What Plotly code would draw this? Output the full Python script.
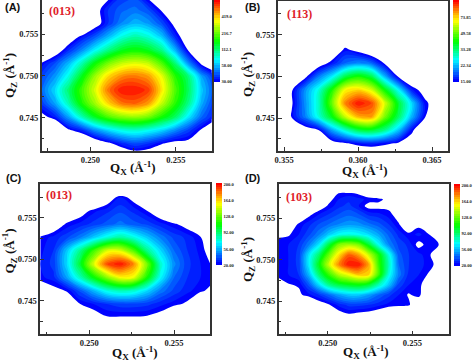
import plotly.graph_objects as go

# Field levels: percent of each colour bar, read row by row from the top of the panel.
# Negative numbers lie outside the drawn (white) region.
Z_A = [
 [-30,-30,-30,-30,-20,-2,6,8,-2,-20,-30,-30,-30,-30],
 [-30,-30,-30,-30,-4,6,11,13,9,-1,-15,-30,-30,-30],
 [-30,-30,-30,-25,-5,6,15,20,17,9,-3,-20,-30,-30],
 [-30,-30,-8,2,10,20,30,35,31,22,5,-8,-25,-30],
 [-25,-7,5,15,27,38,47,50,47,38,20,-1,-15,-30],
 [1,9,20,34,50,62,70,73,70,58,40,16,-2,-8],
 [8,17,30,48,66,80,88,90,86,74,54,40,18,5],
 [12,24,40,56,72,90,100,100,96,78,58,42,22,9],
 [7,18,34,52,66,80,90,92,86,70,54,38,19,6],
 [-3,4,18,34,48,58,64,66,62,52,42,26,12,3],
 [-30,-15,-1,5,16,24,30,32,29,24,16,8,-1,-8],
 [-30,-30,-20,-15,-8,-1.5,5,9,6,1,-3,-3,-10,-25],
 [-30,-30,-30,-30,-30,-20,-12,-7,-8,-15,-25,-30,-30,-30],
]
Z_B = [
 [-30]*14,
 [-30]*14,
 [-30]*14,
 [-30,-30,-30,-30,-30,-10,-12,-30,-30,-30,-30,-30,-30,-30],
 [-30,-30,-30,-25,-10,2,-3,-10,-20,-30,-30,-30,-30,-30],
 [-30,-30,-15,-6,3,12,16,12,-1,-10,-20,-30,-30,-30],
 [-30,-12,-2,14,26,44,52,44,20,-0.5,-10,-25,-30,-30],
 [-12,-1,16,30,52,76,80,72,50,28,4,-4,-20,-30],
 [-12,-1,16,32,60,88,100,94,72,46,24,2,-6,-20],
 [-15,1,14,30,48,70,84,86,62,42,20,0.5,-8,-25],
 [-30,-15,-5,0,18,32,44,46,38,22,2,-10,-25,-30],
 [-30,-30,-20,-10,-5,-1,3,5,2,-1,-5,-20,-30,-30],
 [-30,-30,-30,-25,-25,-20,-15,-15,-15,-20,-25,-30,-30,-30],
]
Z_C = [
 [-30]*14,
 [-30,-30,-30,-30,-20,-6,3,-3,-15,-30,-30,-30,-30,-30],
 [-30,-25,-10,-4,2,5,8,5,0,-6,-15,-25,-30,-30],
 [-15,-6,1,4,7,10,13,10,8,4,1,-3,-10,-25],
 [1,4,8,14,22,30,36,30,22,14,8,5,0.5,-8],
 [2,6,22,38,56,72,72,58,38,24,12,6,2,-4],
 [3,7,24,46,72,94,100,88,62,32,16,7,3,-1],
 [2,5,18,34,50,64,76,74,52,28,12,6,3,1],
 [-6,-2.5,0.5,10,20,30,34,32,24,14,8,4,1,-2],
 [-20,-15,-6,0,3,6,8,8,7,4,1.5,-1,-8,-25],
 [-30,-30,-20,-10,-4,-0.5,-0.5,-0.5,-1,-3,-10,-20,-30,-30],
 [-30]*14,
 [-30]*14,
]
Z_D = [
 [-30]*18,
 [-30,-30,-30,-30,-30,-6,0.3,1.2,-1,-5,-8,-15,-30,-30,-30,-30,-30,-30],
 [-30,-30,-30,-30,-15,-2,3,5,4,2,1.5,-2,-12,-30,-30,-30,-30,-30],
 [-30,-30,-30,-15,-4,1,5,7,3,-2,-2,-1.5,-8,-20,-30,-30,-30,-30],
 [-30,-25,-8,-1.5,3,6,9,11,9,5,4,1.5,-2.5,-12,-30,-30,-30,-30],
 [-20,-5,1,5,9,12,15,17,16,13,10,6,0.5,-5,-2,-15,-30,-30],
 [-1,-0.5,3,8,14,22,28,30,28,24,18,11,5,1,4,0.5,-8,-25],
 [2,3,6,14,25,44,62,66,62,46,28,15,8,5,-2,2,0.5,-8],
 [2,3,7,25,40,60,78,92,85,70,52,30,10,6,4,1,-4,-20],
 [2,3,7,26,48,70,88,100,100,85,55,34,12,6,4,2,-2,-15],
 [2,3,6,20,40,55,68,75,82,80,56,30,14,5,3,-0.5,-10,-25],
 [-4,-0.3,0.5,10,24,38,45,48,50,46,34,22,8,3,2,-5,-20,-30],
 [-25,-15,-1,2,6,12,18,22,22,18,12,7,3,-0.5,1.5,-6,-25,-30],
 [-30,-30,-20,-10,-4,-0.5,4,7,7,6,4,2,1.5,0.8,-5,-20,-30,-30],
 [-30,-30,-30,-30,-20,-10,-3,-0.8,-2,-3,-5,-8,-10,-10,-20,-30,-30,-30],
 [-30]*18,
 [-30]*18,
]
Y_D = [0.75907,0.75798,0.75726,0.75645,0.75544,0.75423,0.75302,0.75181,0.75060,
       0.74940,0.74819,0.74698,0.74577,0.74456,0.74335,0.74214,0.74093]

BAR_TICKS = [0, 20, 40, 60, 80, 100]
BAR_A = ["30.00", "58.00", "112.1", "216.7", "419.0", "818.0"]
BAR_B = ["15.00", "22.34", "33.28", "49.58", "73.85", "110.0"]
BAR_C = ["20.00", "56.00", "92.00", "128.0", "164.0", "200.0"]
BAR_D = ["20.00", "56.00", "92.00", "128.0", "164.0", "200.0"]

W, H = 474, 361
LEVELS = 34
STEP = 100 / LEVELS
SERIF = "Liberation Serif"
DARK = "#333333"

f = 1 / LEVELS
SCALE = [[0, "#ffffff"], [f * 0.5, "#ffffff"], [f * 0.9, "#0000ff"],
         [0.28, "#00ffff"], [0.50, "#00ff00"], [0.75, "#ffff00"], [1, "#ff0000"]]

panels = [
 dict(z=Z_A, x0=0.24715, dx=0.00078, y0=0.74032, dy=0.0016, box=(41.7, 211.7, 0, 150.7),
      xr=[0.24715, 0.2571], yr=[0.74104, 0.75911], xt=[0.250, 0.255], bar=BAR_A, barbox=(214, 220, 0, 82.5),
      letter="(A)", lp=(13, 7), tag="(013)", tp=(62, 11), xtp=(133, 168), ytp=(10, 76)),
 dict(z=Z_B, x0=0.35462, dx=0.0009, y0=0.74036, dy=0.0016, box=(278.3, 448, 1, 151),
      xr=[0.35461, 0.36608], yr=[0.74104, 0.75904], xt=[0.355, 0.360, 0.365], bar=BAR_B, barbox=(453.3, 459.3, 0, 83),
      letter="(B)", lp=(253, 7), tag="(113)", tp=(299, 14), xtp=(365, 170.5), ytp=(248, 75)),
 dict(z=Z_C, x0=0.24711, dx=0.000787, y0=0.7398, dy=0.001606, box=(40.3, 210.3, 184, 334),
      xr=[0.24711, 0.25714], yr=[0.741, 0.75907], xt=[0.250, 0.255], bar=BAR_C, barbox=(215.7, 222, 183.7, 266.3),
      letter="(C)", lp=(14, 178), tag="(013)", tp=(59, 195), xtp=(135, 353), ytp=(9.5, 251)),
 dict(z=Z_D, x0=0.24711, dx=0.00059, y=Y_D[::-1], box=(278.7, 448.7, 184.3, 334.3),
      xr=[0.2471, 0.25715], yr=[0.741, 0.75907], xt=[0.250, 0.255], bar=BAR_D, barbox=(454, 460.3, 184, 266.7),
      letter="(D)", lp=(253, 178), tag="(103)", tp=(299, 197), xtp=(366, 352), ytp=(248, 260)),
]

fig = go.Figure()
ann = []
for i, p in enumerate(panels, start=1):
    suffix = "" if i == 1 else str(i)
    l, r, t, b = p["box"]
    xaxis = dict(domain=[l / W, r / W], range=p["xr"], tickvals=p["xt"], tickformat=".3f",
                 ticks="inside", ticklen=4, tickwidth=1, tickcolor=DARK,
                 minor=dict(dtick=0.0025, tick0=0.25, ticks="inside", ticklen=2.5, tickwidth=1, tickcolor=DARK),
                 showline=True, mirror=True, linecolor=DARK, linewidth=1.5, showgrid=False, zeroline=False,
                 tickfont=dict(family=SERIF, size=8.5, color="#222222", weight="bold"),
                 anchor="y" + suffix)
    yaxis = dict(domain=[1 - b / H, 1 - t / H], range=p["yr"], tickvals=[0.745, 0.750, 0.755], tickformat=".3f",
                 ticks="inside", ticklen=4, tickwidth=1, tickcolor=DARK,
                 minor=dict(dtick=0.0025, tick0=0.7425, ticks="inside", ticklen=2.5, tickwidth=1, tickcolor=DARK),
                 showline=True, mirror=True, linecolor=DARK, linewidth=1.5, showgrid=False, zeroline=False,
                 tickfont=dict(family=SERIF, size=8.5, color="#222222", weight="bold"),
                 anchor="x" + suffix)
    fig.update_layout({"xaxis" + suffix: xaxis, "yaxis" + suffix: yaxis})

    bl, br, bt, bb = p["barbox"]
    grid = dict(x0=p["x0"], dx=p["dx"])
    if "y" in p:
        grid["y"] = p["y"]
    else:
        grid["y0"] = p["y0"]
        grid["dy"] = p["dy"]
    fig.add_trace(go.Contour(
        z=p["z"][::-1], **grid, xaxis="x" + suffix, yaxis="y" + suffix,
        colorscale=SCALE, autocontour=False,
        contours=dict(start=0, end=100, size=STEP, coloring="fill", showlines=False),
        line=dict(width=0, smoothing=1), hoverinfo="skip",
        colorbar=dict(x=bl / W, xanchor="left",
                      y=1 - bb / H, yanchor="bottom", len=(bb - bt) / H, lenmode="fraction",
                      thickness=br - bl, thicknessmode="pixels", outlinewidth=0, borderwidth=0,
                      tickvals=BAR_TICKS, ticktext=p["bar"], ticks="", ypad=0, xpad=0,
                      tickfont=dict(family=SERIF, size=4.6, color="#222222", weight="bold")),
    ))

    def text(s, pos, font, **kw):
        ann.append(dict(text=s, x=pos[0] / W, y=1 - pos[1] / H, xref="paper", yref="paper",
                        xanchor="center", yanchor="middle", showarrow=False, font=font, **kw))

    text(p["letter"], p["lp"], dict(family="Liberation Sans", size=11, color="#111111", weight="bold"))
    text(p["tag"], p["tp"], dict(family=SERIF, size=12, color="#e0202a", weight="bold"))
    text("Q<sub>X</sub> (Å<sup>-1</sup>)", p["xtp"], dict(family=SERIF, size=13, color="#111111", weight="bold"))
    text("Q<sub>Z</sub> (Å<sup>-1</sup>)", p["ytp"], dict(family=SERIF, size=13, color="#111111", weight="bold"), textangle=-90)

fig.update_layout(width=W, height=H, margin=dict(l=0, r=0, t=0, b=0, autoexpand=False), paper_bgcolor="white",
                  plot_bgcolor="white", showlegend=False, annotations=ann)
fig.write_html("out.html", config=dict(displayModeBar=False),
               post_script="document.body.style.margin='0';document.documentElement.style.overflow='hidden';")
